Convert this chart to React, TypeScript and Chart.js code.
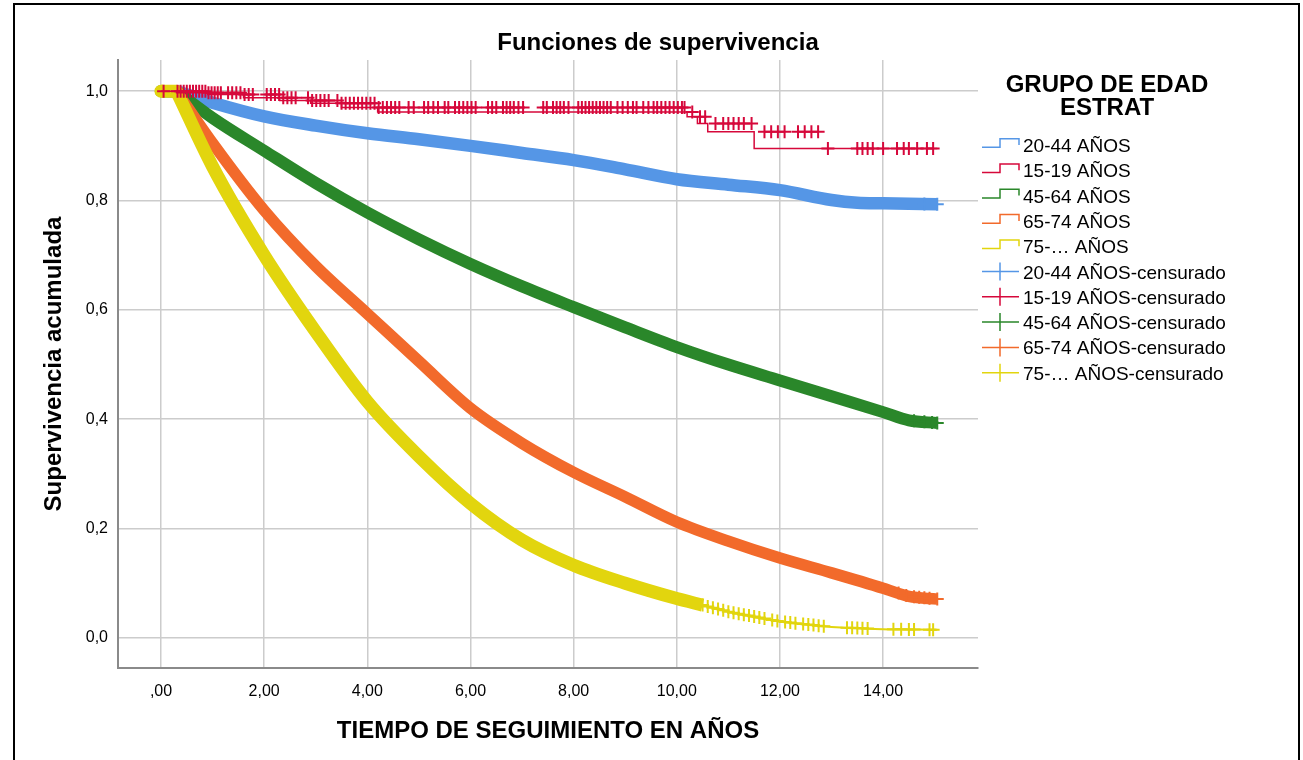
import React, { useEffect, useRef } from "react";
import { Chart, registerables } from "chart.js";

Chart.register(...registerables);

const FONT = "'Liberation Sans', Arial, Helvetica, sans-serif";

// ---------- texts ----------
const chartTitle = "Funciones de supervivencia";
const xAxisTitle = "TIEMPO DE SEGUIMIENTO EN AÑOS";
const yAxisTitle = "Supervivencia acumulada";
const legendTitle = ["GRUPO DE EDAD", "ESTRAT"];
const groupNames = ["20-44 AÑOS", "15-19 AÑOS", "45-64 AÑOS", "65-74 AÑOS", "75-… AÑOS"];
const censorSuffix = "-censurado";

// ---------- ticks ----------
const xTickValues = [0, 2, 4, 6, 8, 10, 12, 14];
const xTickLabels = [",00", "2,00", "4,00", "6,00", "8,00", "10,00", "12,00", "14,00"];
const yTickValues = [0, 0.2, 0.4, 0.6, 0.8, 1.0];
const yTickLabels = ["0,0", "0,2", "0,4", "0,6", "0,8", "1,0"];

// ---------- data (years, cumulative survival) ----------
const dropStart = 0.3;

const blueT = [0, 0.3, 1, 2, 3, 4, 5, 6, 7, 8, 9, 10, 11, 12, 13, 13.5, 14, 15.05];
const blueS = [1, 1, 0.979, 0.954, 0.937, 0.923, 0.912, 0.9, 0.887, 0.874, 0.857, 0.839, 0.829, 0.819, 0.801, 0.796, 0.795, 0.793];

const greenT = [0, 0.3, 1, 2, 3, 4, 5, 6, 7, 8, 9, 10, 11, 12, 13, 14, 14.5, 15.05];
const greenS = [1, 1, 0.951, 0.891, 0.832, 0.778, 0.729, 0.684, 0.643, 0.605, 0.568, 0.532, 0.5, 0.471, 0.442, 0.413, 0.398, 0.393];

const orangeT = [0, 0.3, 1, 2, 3, 4, 5, 6, 7, 8, 9, 10, 11, 12, 13, 14, 14.5, 15.05];
const orangeS = [1, 1, 0.905, 0.782, 0.68, 0.593, 0.506, 0.42, 0.356, 0.303, 0.258, 0.212, 0.177, 0.146, 0.119, 0.091, 0.076, 0.071];

const yellowT = [0, 0.3, 1, 2, 3, 4, 5, 6, 7, 8, 9, 10, 10.5, 11, 12, 13, 14, 15.05];
const yellowS = [1, 1, 0.862, 0.7, 0.56, 0.432, 0.332, 0.246, 0.179, 0.133, 0.1, 0.072, 0.06, 0.048, 0.03, 0.02, 0.016, 0.015];
const yellowDenseEnd = 10.5;

// 15-19: Kaplan-Meier step function
const redT = [0, 0.3, 0.9, 1.6, 2.3, 2.9, 3.5, 4.2, 10.2, 10.4, 10.6, 11.5, 12.8, 15.05];
const redS = [1, 1, 0.997, 0.994, 0.988, 0.983, 0.978, 0.97, 0.962, 0.953, 0.941, 0.926, 0.895, 0.895];

// censored times
const redCensor = [0.05, 0.32, 0.38, 0.44, 0.5, 0.56, 0.62, 0.68, 0.74, 0.8, 0.86, 0.92, 0.98, 1.04, 1.1, 1.16, 1.3, 1.38, 1.46, 1.54, 1.62, 1.7, 1.78, 2.05, 2.13, 2.21, 2.29, 2.37, 2.45, 2.53, 2.61, 2.85, 2.93, 3.01, 3.09, 3.17, 3.25, 3.42, 3.5, 3.58, 3.66, 3.74, 3.82, 3.9, 3.98, 4.06, 4.14, 4.22, 4.3, 4.38, 4.46, 4.54, 4.62, 4.8, 4.9, 5.1, 5.18, 5.28, 5.37, 5.5, 5.57, 5.7, 5.78, 5.86, 5.94, 6.02, 6.1, 6.34, 6.42, 6.5, 6.63, 6.7, 6.77, 6.84, 6.93, 7.02, 7.41, 7.48, 7.6, 7.67, 7.74, 7.81, 7.9, 8.09, 8.16, 8.23, 8.3, 8.37, 8.44, 8.51, 8.58, 8.65, 8.72, 8.85, 8.95, 9.05, 9.15, 9.22, 9.35, 9.45, 9.55, 9.62, 9.7, 9.78, 9.86, 9.94, 10.02, 10.1, 10.15, 10.3, 10.45, 10.55, 10.75, 10.9, 11.0, 11.1, 11.2, 11.3, 11.45, 11.7, 11.83, 11.96, 12.09, 12.35, 12.48, 12.61, 12.74, 12.93, 13.5, 13.6, 13.7, 13.8, 14.0, 14.27, 14.4, 14.5, 14.66, 14.85, 14.97];
const yellowCensor = [0.02, 10.5, 10.6, 10.7, 10.8, 10.9, 11.0, 11.1, 11.2, 11.3, 11.4, 11.5, 11.6, 11.7, 11.85, 11.95, 12.1, 12.2, 12.3, 12.45, 12.55, 12.65, 12.75, 12.85, 13.3, 13.4, 13.5, 13.6, 13.7, 14.2, 14.35, 14.5, 14.6, 14.9, 14.97];
const orangeCensor = [14.3, 14.45, 14.6, 14.7, 14.8, 14.9, 15.05];
const greenCensor = [14.6, 14.8, 14.95, 15.05];
const blueCensor = [14.8, 15.05];

const COLORS = {
  blue: "#5596E6",
  red: "#D6083B",
  green: "#2A872A",
  orange: "#F26A2B",
  yellow: "#E2D50E",
};
const legendColors = [COLORS.blue, COLORS.red, COLORS.green, COLORS.orange, COLORS.yellow];

// helpers
const pts = (t: number[], s: number[]) => t.map((x, i) => ({ x, y: s[i] }));
const linInterp = (t: number[], s: number[], x: number) => {
  for (let i = 1; i < t.length; i++) {
    if (x <= t[i]) {
      const f = (x - t[i - 1]) / (t[i] - t[i - 1]);
      return s[i - 1] + f * (s[i] - s[i - 1]);
    }
  }
  return s[s.length - 1];
};
const stepAt = (t: number[], s: number[], x: number) => {
  let v = s[0];
  for (let i = 0; i < t.length; i++) if (t[i] <= x) v = s[i];
  return v;
};

const textPlugin = {
  id: "customTexts",
  afterDraw(chart: any) {
    const ctx: CanvasRenderingContext2D = chart.ctx;
    const area = chart.chartArea;
    ctx.save();
    ctx.fillStyle = "#000";
    ctx.textBaseline = "alphabetic";
    ctx.textAlign = "center";
    ctx.font = `bold 24px ${FONT}`;
    ctx.fillText(chartTitle, 658, 50);
    ctx.fillText(xAxisTitle, (area.left + area.right) / 2, 738);
    ctx.save();
    ctx.translate(61, (area.top + area.bottom) / 2);
    ctx.rotate(-Math.PI / 2);
    ctx.fillText(yAxisTitle, 0, 0);
    ctx.restore();

    // legend title
    ctx.fillText(legendTitle[0], 1107, 92);
    ctx.fillText(legendTitle[1], 1107, 115);

    // legend items
    ctx.textAlign = "left";
    ctx.font = `19px ${FONT}`;
    const x0 = 982, xm = 1000, x1 = 1019, tx = 1023;
    const rowH = 25.3;
    const b0 = 152;
    ctx.lineWidth = 1.5;
    for (let i = 0; i < 10; i++) {
      const b = b0 + i * rowH;
      const col = legendColors[i % 5];
      ctx.strokeStyle = col;
      ctx.beginPath();
      if (i < 5) {
        ctx.moveTo(x0, b - 4.7);
        ctx.lineTo(xm, b - 4.7);
        ctx.lineTo(xm, b - 13.3);
        ctx.lineTo(x1, b - 13.3);
        ctx.lineTo(x1, b - 7);
      } else {
        const c = b - 7;
        ctx.moveTo(x0, c);
        ctx.lineTo(x1, c);
        ctx.moveTo(xm, c - 9);
        ctx.lineTo(xm, c + 9);
      }
      ctx.stroke();
      ctx.fillStyle = "#000";
      ctx.fillText(groupNames[i % 5] + (i >= 5 ? censorSuffix : ""), tx, b);
    }
    ctx.restore();
  },
};

export default function App() {
  const ref = useRef<HTMLCanvasElement | null>(null);

  useEffect(() => {
    if (!ref.current) return;
    const crossCommon = {
      showLine: false,
      pointStyle: "cross",
      pointRadius: 6.5,
      pointBorderWidth: 2,
      pointHoverRadius: 6.5,
    };
    const line = (data: any[], color: string, order: number, width: number, cap: string, smooth: boolean) => ({
      data,
      showLine: true,
      borderColor: color,
      backgroundColor: color,
      borderWidth: width,
      borderCapStyle: cap,
      borderJoinStyle: "round",
      cubicInterpolationMode: smooth ? "monotone" : "default",
      tension: 0,
      pointRadius: 0,
      pointHoverRadius: 0,
      fill: false,
      order,
    });
    // a KM curve drawn as a flat start (to dropStart) and a smooth decline afterwards
    const curveSets = (t: number[], s: number[], color: string, order: number, width: number, until = Infinity) => {
      const all = pts(t, s);
      return [
        line(all.filter((p) => p.x <= dropStart), color, order, width, "round", false),
        line(all.filter((p) => p.x >= dropStart && p.x <= until), color, order, width, "butt", true),
      ];
    };
    const censorSet = (times: number[], t: number[], s: number[], color: string, order: number, step = false) => ({
      ...crossCommon,
      data: times.map((x) => ({ x, y: step ? stepAt(t, s, x) : linInterp(t, s, x) })),
      borderColor: color,
      backgroundColor: color,
      pointBorderColor: color,
      order,
    });

    const chart = new Chart(ref.current, {
      type: "scatter",
      data: {
        datasets: [
          censorSet(redCensor, redT, redS, COLORS.red, 0, true),
          {
            data: pts(redT, redS),
            showLine: true,
            stepped: "after",
            borderColor: COLORS.red,
            borderWidth: 1.5,
            pointRadius: 0,
            pointHoverRadius: 0,
            order: 1,
          },
          censorSet(yellowCensor, yellowT, yellowS, COLORS.yellow, 2),
          ...curveSets(yellowT, yellowS, COLORS.yellow, 3, 13, yellowDenseEnd),
          line(pts(yellowT, yellowS).filter((p) => p.x >= dropStart), COLORS.yellow, 4, 2, "butt", true),
          censorSet(orangeCensor, orangeT, orangeS, COLORS.orange, 5),
          ...curveSets(orangeT, orangeS, COLORS.orange, 6, 11.5),
          censorSet(greenCensor, greenT, greenS, COLORS.green, 7),
          ...curveSets(greenT, greenS, COLORS.green, 8, 12),
          censorSet(blueCensor, blueT, blueS, COLORS.blue, 9),
          ...curveSets(blueT, blueS, COLORS.blue, 10, 12.5),
        ] as any,
      },
      options: {
        animation: false,
        responsive: false,
        maintainAspectRatio: false,
        devicePixelRatio: 1,
        layout: { padding: { left: 0, right: 325, top: 60, bottom: 0 } },
        plugins: {
          legend: { display: false },
          title: { display: false },
          tooltip: { enabled: false },
        },
        scales: {
          x: {
            type: "linear",
            min: -0.834,
            max: 15.84,
            afterFit: (scale: any) => {
              scale.height = 92;
            },
            afterBuildTicks: (scale: any) => {
              scale.ticks = xTickValues.map((v) => ({ value: v }));
            },
            ticks: {
              autoSkip: false,
              maxRotation: 0,
              padding: 14,
              color: "#000",
              font: { family: FONT, size: 16 },
              callback: (v: any) => {
                const i = xTickValues.indexOf(Number(v));
                return i >= 0 ? xTickLabels[i] : "";
              },
            },
            grid: { color: "#cccccc", lineWidth: 1.5, drawTicks: false },
            border: { display: true, color: "#8a8a8a", width: 2 },
          },
          y: {
            type: "linear",
            min: -0.055,
            max: 1.057,
            afterFit: (scale: any) => {
              scale.width = 118;
            },
            afterBuildTicks: (scale: any) => {
              scale.ticks = yTickValues.map((v) => ({ value: v }));
            },
            ticks: {
              autoSkip: false,
              padding: 10,
              color: "#000",
              font: { family: FONT, size: 16 },
              callback: (v: any) => {
                const i = yTickValues.findIndex((t) => Math.abs(t - Number(v)) < 1e-6);
                return i >= 0 ? yTickLabels[i] : "";
              },
            },
            grid: { color: "#cccccc", lineWidth: 1.5, drawTicks: false },
            border: { display: true, color: "#8a8a8a", width: 2 },
          },
        },
      } as any,
      plugins: [textPlugin],
    });
    return () => chart.destroy();
  }, []);

  return (
    <div
      style={{
        position: "fixed",
        left: 0,
        top: 0,
        width: 1303,
        height: 760,
        overflow: "hidden",
        background: "#fff",
      }}
    >
      <canvas ref={ref} width={1303} height={760} style={{ position: "absolute", left: 0, top: 0, width: 1303, height: 760 }} />
      <div
        style={{
          position: "absolute",
          left: 13,
          top: 3,
          width: 1283,
          height: 820,
          border: "2px solid #000",
          pointerEvents: "none",
        }}
      />
    </div>
  );
}
